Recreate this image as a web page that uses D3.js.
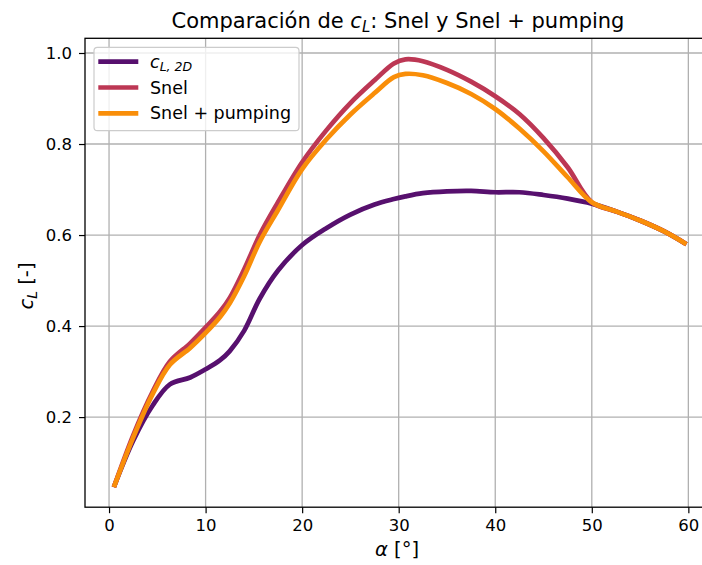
<!DOCTYPE html>
<html>
<head>
<meta charset="utf-8">
<script src="https://cdn.jsdelivr.net/npm/d3@7"></script>
<style>
  body { margin: 0; background: #fff; }
  svg text { font-family: "DejaVu Sans", sans-serif; fill: #000; }
</style>
</head>
<body>
<div id="chart"></div>
<script>
// angle of attack (deg) and lift coefficients
const alpha = [0.5, 2.5, 4.5, 6.3, 8.4, 10, 11.5, 12.5, 14, 15.6, 17.5, 20, 22.5, 25, 27.5, 29.5, 30.7, 32.5, 35, 37.5, 40, 42.5, 45, 47.5, 50, 52.5, 55, 57.5, 59.8]
const cl2d = [0.046, 0.148, 0.225, 0.272, 0.287, 0.305, 0.325, 0.345, 0.39, 0.46, 0.522, 0.578, 0.615, 0.645, 0.667, 0.679, 0.685, 0.692, 0.696, 0.697, 0.694, 0.694, 0.688, 0.680, 0.669, 0.652, 0.632, 0.608, 0.580]
const snel = [0.046, 0.160, 0.255, 0.322, 0.362, 0.397, 0.432, 0.462, 0.525, 0.600, 0.672, 0.760, 0.830, 0.890, 0.940, 0.977, 0.986, 0.982, 0.963, 0.937, 0.905, 0.866, 0.813, 0.749, 0.672, 0.652, 0.632, 0.608, 0.580]
const snelPump = [0.046, 0.155, 0.250, 0.315, 0.352, 0.385, 0.420, 0.450, 0.510, 0.585, 0.655, 0.745, 0.810, 0.865, 0.912, 0.947, 0.954, 0.951, 0.934, 0.910, 0.877, 0.834, 0.784, 0.727, 0.672, 0.652, 0.632, 0.608, 0.580]

const xTicks = [0, 10, 20, 30, 40, 50, 60]
const yTicks = [0.2, 0.4, 0.6, 0.8, 1.0]

const series = [
  { name: "cl2d", values: cl2d, color: "#57106e" },
  { name: "Snel", values: snel, color: "#bc3754" },
  { name: "Snel + pumping", values: snelPump, color: "#f98e09" }
]

const width = 702, height = 565
const box = { left: 85, right: 715, top: 38.3, bottom: 507.2 }

const svg = d3.select("#chart").append("svg")
  .attr("width", width)
  .attr("height", height)

const x = d3.scaleLinear().domain([-2.49, 62.76]).range([box.left, box.right])
const y = d3.scaleLinear().domain([0.002, 1.0323]).range([box.bottom, box.top])

// grid
svg.append("g").selectAll("line").data(xTicks).join("line")
  .attr("x1", d => x(d)).attr("x2", d => x(d))
  .attr("y1", box.top).attr("y2", box.bottom)
  .attr("stroke", "#b0b0b0").attr("stroke-width", 1.3)
svg.append("g").selectAll("line").data(yTicks).join("line")
  .attr("x1", box.left).attr("x2", box.right)
  .attr("y1", d => y(d)).attr("y2", d => y(d))
  .attr("stroke", "#b0b0b0").attr("stroke-width", 1.3)

// curves
svg.append("defs").append("clipPath").attr("id", "clip")
  .append("rect").attr("x", box.left).attr("y", box.top)
  .attr("width", box.right - box.left).attr("height", box.bottom - box.top)

const line = d3.line().curve(d3.curveCatmullRom.alpha(0.5)).x((d, i) => x(alpha[i])).y(d => y(d))
svg.append("g").attr("clip-path", "url(#clip)")
  .selectAll("path").data(series).join("path")
  .attr("d", d => line(d.values))
  .attr("fill", "none")
  .attr("stroke", d => d.color)
  .attr("stroke-width", 4.7)
  .attr("stroke-linejoin", "round")
  .attr("stroke-linecap", "butt")

// axes
const xAxis = svg.append("g").attr("transform", `translate(0,${box.bottom})`)
  .call(d3.axisBottom(x).tickValues(xTicks).tickSize(6).tickPadding(6).tickFormat(d3.format("d")))
const yAxis = svg.append("g").attr("transform", `translate(${box.left},0)`)
  .call(d3.axisLeft(y).tickValues(yTicks).tickSize(6).tickPadding(7).tickFormat(d3.format(".1f")))
for (const ax of [xAxis, yAxis]) {
  ax.select(".domain").remove()
  ax.selectAll(".tick line").attr("stroke", "#000").attr("stroke-width", 1.2)
  ax.selectAll(".tick text").attr("font-size", 16.5).attr("font-family", "DejaVu Sans, sans-serif").attr("fill", "#000")
}

// spines
svg.append("rect")
  .attr("x", box.left).attr("y", box.top)
  .attr("width", box.right - box.left).attr("height", box.bottom - box.top)
  .attr("fill", "none").attr("stroke", "#000").attr("stroke-width", 1.3)

// title
const title = svg.append("text").attr("x", 398).attr("y", 28)
  .attr("text-anchor", "middle").attr("font-size", 21)
title.append("tspan").text("Comparación de ")
title.append("tspan").attr("font-style", "italic").text("c")
title.append("tspan").attr("font-style", "italic").attr("font-size", 15).attr("dy", 3.5).text("L")
title.append("tspan").attr("dy", -3.5).text(": Snel y Snel + pumping")

// axis labels
const xl = svg.append("text").attr("x", 397).attr("y", 556)
  .attr("text-anchor", "middle").attr("font-size", 19.5)
xl.append("tspan").attr("font-style", "italic").text("α")
xl.append("tspan").text(" [°]")

const yl = svg.append("text").attr("transform", "translate(33,286) rotate(-90)")
  .attr("text-anchor", "middle").attr("font-size", 19.5)
yl.append("tspan").attr("font-style", "italic").text("c")
yl.append("tspan").attr("font-style", "italic").attr("font-size", 14).attr("dy", 3.5).text("L")
yl.append("tspan").attr("dy", -3.5).text(" [-]")

// legend
const legend = svg.append("g")
legend.append("rect")
  .attr("x", 94).attr("y", 47.3).attr("width", 205).attr("height", 83.4)
  .attr("rx", 3.5).attr("fill", "#fff").attr("fill-opacity", 0.8)
  .attr("stroke", "#cccccc").attr("stroke-width", 1.2)
const rows = legend.selectAll("g").data(series).join("g")
  .attr("transform", (d, i) => `translate(0,${61.7 + i * 25.8})`)
rows.append("line")
  .attr("x1", 98.3).attr("x2", 138.3)
  .attr("stroke", d => d.color).attr("stroke-width", 4.7)
const labels = rows.append("text").attr("x", 150).attr("y", 6).attr("font-size", 17.5)
labels.each(function (d) {
  const t = d3.select(this)
  if (d.name === "cl2d") {
    t.append("tspan").attr("font-style", "italic").text("c")
    t.append("tspan").attr("font-style", "italic").attr("font-size", 12.5).attr("dy", 3.5).text("L, 2D")
  } else {
    t.text(d.name)
  }
})
</script>
</body>
</html>
